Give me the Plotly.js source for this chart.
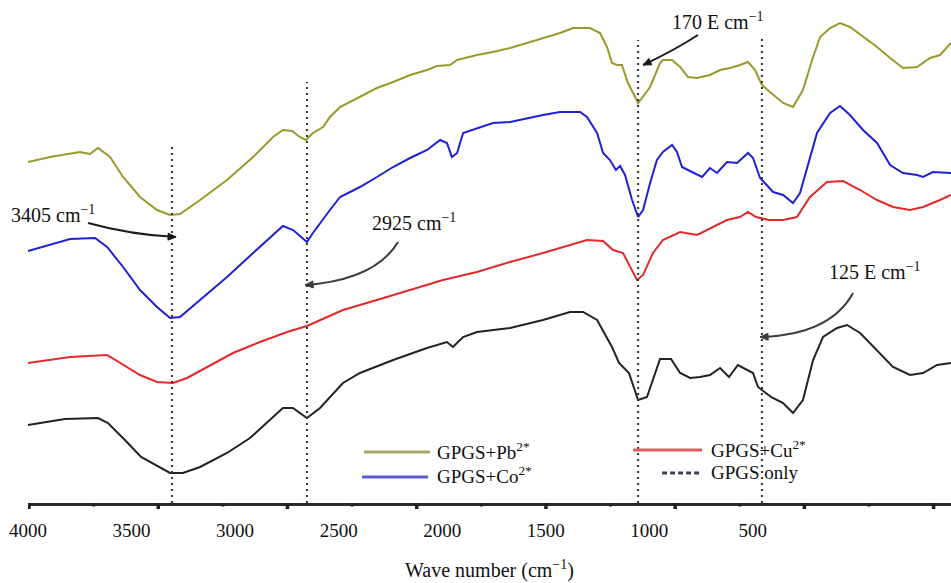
<!DOCTYPE html>
<html>
<head>
<meta charset="utf-8">
<script src="https://cdn.plot.ly/plotly-3.0.1.min.js"></script>
<style>
  html, body { margin: 0; padding: 0; background: #ffffff; }
  #chart { width: 951px; height: 583px; }
</style>
</head>
<body>
<div id="chart"></div>
<script>
// FTIR spectra of the GPGS adsorbent before and after metal-ion uptake.
// Transmittance is in arbitrary, vertically offset units.

const pbWave = [4000,3894,3749,3701,3662,3604,3541,3459,3377,3314,3266,3169,3039,2913,2817,2769,2725,2687,2658,2624,2575,2542,2493,2397,2315,2237,2155,2073,2025,1962,1928,1832,1755,1672,1590,1513,1431,1368,1286,1238,1204,1180,1156,1132,1103,1078,1054,996,948,934,890,851,813,769,707,658,610,562,523,489,456,417,354,306,258,209,175,127,79,31,-32,-100,-163,-225,-293,-356,-404,-457];
const pbT = [67.6,68.6,69.6,69.2,70.4,68.6,64.6,60.6,58,57,57.2,60,64,68.6,72.6,74,73.8,72.6,72,73.4,74.6,76.6,78.6,80.6,82.4,83.6,85,86,86.8,87,88,89,89.6,90.4,91.4,92.4,93.4,94.4,94.4,93.4,90.6,87.4,87,87,83.4,81.4,79.4,82.6,87.4,88,88,86.6,84.6,84.4,85,86,86.4,87,87.6,86,83,81.6,79.4,78.6,82,88.6,92.6,94.4,95.4,94.6,92.6,90.6,88.4,86.4,86.6,88.4,89,91.4];

const coWave = [4000,3894,3797,3676,3618,3541,3459,3377,3314,3266,3169,3039,2913,2769,2720,2677,2653,2624,2590,2542,2493,2397,2315,2237,2155,2073,2010,1977,1953,1928,1899,1832,1755,1672,1590,1513,1431,1334,1301,1252,1223,1190,1161,1141,1117,1083,1054,1030,996,963,934,890,866,842,794,745,707,673,625,576,523,499,465,402,354,306,272,190,127,79,31,-32,-100,-163,-225,-293,-322,-370,-457];
const coT = [49.8,51,52.2,52.4,50.6,46.6,42,38.6,36.4,36.6,40,44.6,49.4,54.8,54,52.4,51.6,53.4,55.4,58,60.6,62.6,64.6,66.6,68.4,70,72,71.4,68.6,69.4,73.4,74.4,75.4,75.6,76.4,77,77.6,77.6,76.6,73.4,69.4,68,66,66.8,65,60,56.6,58,63.4,68,69.6,71,69.6,66.6,65.6,64.6,66.4,65.4,67.6,67.4,69.4,68.4,64.4,61.6,61,59.4,61.4,73.4,77.4,78.8,77,74,71.4,67,65.4,65,64.6,65.6,65.4];

const cuWave = [4000,3894,3797,3618,3556,3459,3377,3300,3232,3136,3010,2880,2749,2653,2590,2479,2315,2155,1996,1832,1672,1513,1349,1301,1223,1175,1127,1093,1059,1030,982,934,851,769,692,625,562,523,485,422,354,287,224,142,64,-18,-100,-177,-259,-322,-404,-457];
const cuT = [27.4,28,28.6,29,27.4,25,23.6,23.4,24.4,26.6,29.4,31.6,33.6,34.8,36,38,40,42,44,45.6,47.6,49.4,51.4,52,51.8,50,49.4,46.6,44,45,49.4,52,53.6,53,54.6,56,56.6,57.6,56.6,56,56,56.6,60.6,63.6,63.8,62,60,58.6,58,58.6,60,61];

const gpWave = [4000,3937,3822,3662,3614,3532,3454,3314,3252,3169,3039,2928,2846,2769,2721,2653,2590,2556,2479,2397,2237,2073,1977,1948,1899,1832,1672,1513,1383,1320,1252,1180,1146,1098,1054,1011,982,948,895,851,803,755,707,658,615,572,499,475,412,354,306,258,209,161,93,45,-18,-100,-177,-259,-322,-390,-457];
const gpT = [15,15.4,16.2,16.4,15.4,12,8.6,5.4,5.4,6.6,9.4,12.4,15.4,18.4,18.4,16.4,18.4,20,23.4,25.4,28,30.4,31.6,30.6,32.6,33.6,34.4,36,37.6,37.6,36,30.6,27.4,25.4,20,20.6,24,28.2,28.2,25.4,24.4,24.6,25,26.4,24.6,27,25.4,22.6,20.6,19.4,17.4,20,28,32.6,34.4,35,33.4,30,26.6,25,25.4,27,27.4];

const seriesNames = ['GPGS+Pb<sup>2*</sup>', 'GPGS+Co<sup>2*</sup>', 'GPGS+Cu<sup>2*</sup>', 'GPGS only'];
const seriesColors = ['#9a9a2c', '#2020d6', '#e32a2a', '#222222'];
const legendColors = ['#a6a866', '#5b5bcc', '#de5c5c', '#3a3f55'];

const tickValues = [4000, 3500, 3000, 2500, 2000, 1500, 1000, 500];
const tickLabels = ['4000', '3500', '3000', '2500', '2000', '1500', '1000', '500'];

// band positions marked by dotted guides, and the height each guide reaches
const bandMarks = [3305, 2653, 1054, 456];
const bandMarkTops = [70.6, 83.6, 92, 92.4];
const bandLabels = ['3405 cm<sup>\u22121</sup>', '2925 cm<sup>\u22121</sup>', '170 E cm<sup>\u22121</sup>', '125 E cm<sup>\u22121</sup>'];

const SERIF = '"Liberation Serif", "Times New Roman", Times, serif';

// plot geometry, used to shape the arrow heads in screen space
const W = 951, H = 583;
const M = { l: 28, r: 0, t: 0, b: 80 };
const X_RANGE = [4000, -457];
const Y_RANGE = [-0.6, 100];
const plotW = W - M.l - M.r, plotH = H - M.t - M.b;
const xToPx = v => M.l + (v - X_RANGE[0]) / (X_RANGE[1] - X_RANGE[0]) * plotW;
const yToPx = v => M.t + (Y_RANGE[1] - v) / (Y_RANGE[1] - Y_RANGE[0]) * plotH;
const pxToX = p => X_RANGE[0] + (p - M.l) / plotW * (X_RANGE[1] - X_RANGE[0]);
const pxToY = p => Y_RANGE[1] - (p - M.t) / plotH * (Y_RANGE[1] - Y_RANGE[0]);

const waves = [pbWave, coWave, cuWave, gpWave];
const trans = [pbT, coT, cuT, gpT];

const traces = waves.map((w, i) => ({
  type: 'scatter',
  mode: 'lines',
  x: w,
  y: trans[i],
  name: seriesNames[i],
  line: { color: seriesColors[i], width: 2 },
  showlegend: false,
  hoverinfo: 'skip'
}));

const shapes = [];

// dotted guides at the marked bands
bandMarks.forEach((v, i) => {
  shapes.push({
    type: 'line', xref: 'x', yref: 'y',
    x0: v, x1: v, y0: Y_RANGE[0], y1: bandMarkTops[i],
    line: { color: '#333333', width: 2, dash: '2px,4px' }
  });
});

// axis tick marks: evenly spaced, alternating long and short
const tickStart = 3995, tickStep = 312;
for (let i = 0; i <= 14; i++) {
  const v = tickStart - tickStep * i;
  const big = i % 2 === 0;
  shapes.push({
    type: 'line', xref: 'x', yref: 'paper',
    x0: v, x1: v, y0: 0, y1: big ? -0.012 : -0.007,
    line: { color: '#222222', width: big ? 3.5 : 3 }
  });
}

// curved leader lines for the band labels: start, control point, tip
const leaders = [
  { s: [3710, 55.4], c: [3500, 53], e: [3285, 52.6], color: '#1c1c1c' },
  { s: [2213, 51.6], c: [2324, 44], e: [2662, 43], color: '#3c3c3c' },
  { s: [765, 93], c: [876, 90], e: [1030, 87], color: '#1c1c1c' },
  { s: [16, 41.4], c: [127, 33], e: [465, 32.6], color: '#3c3c3c' }
];
leaders.forEach(L => {
  shapes.push({
    type: 'path', xref: 'x', yref: 'y',
    path: `M${L.s[0]},${L.s[1]} Q${L.c[0]},${L.c[1]} ${L.e[0]},${L.e[1]}`,
    line: { color: L.color, width: 2 }
  });
  // small filled head, aligned with the curve's end tangent
  const tx = xToPx(L.e[0]), ty = yToPx(L.e[1]);
  const cx = xToPx(L.c[0]), cy = yToPx(L.c[1]);
  let dx = tx - cx, dy = ty - cy;
  const len = Math.hypot(dx, dy); dx /= len; dy /= len;
  const hl = 8, hw = 3.5;
  const bx = tx - dx * hl, by = ty - dy * hl;
  const p1 = [bx - dy * hw, by + dx * hw], p2 = [bx + dy * hw, by - dx * hw];
  shapes.push({
    type: 'path', xref: 'x', yref: 'y',
    path: `M${L.e[0]},${L.e[1]} L${pxToX(p1[0])},${pxToY(p1[1])} L${pxToX(p2[0])},${pxToY(p2[1])} Z`,
    fillcolor: L.color,
    line: { color: L.color, width: 1 }
  });
});

// legend keys, drawn as line samples
const legendKeys = [
  { x0: 2377, x1: 2059, y: 9.6, dash: 'solid' },
  { x0: 2387, x1: 2068, y: 4.6, dash: 'solid' },
  { x0: 1078, x1: 745, y: 10, dash: 'solid' },
  { x0: 938, x1: 745, y: 5.4, dash: '5px,3px' }
];
legendKeys.forEach((k, i) => {
  shapes.push({
    type: 'line', xref: 'x', yref: 'y',
    x0: k.x0, x1: k.x1, y0: k.y, y1: k.y,
    line: { color: legendColors[i], width: 3, dash: k.dash }
  });
});

const annotations = [];

// band label texts
const labelAnchors = [
  { x: 3667, y: 57.2, xanchor: 'right' },
  { x: 2348, y: 55.6, xanchor: 'left' },
  { x: 900, y: 95.8, xanchor: 'left' },
  { x: 142, y: 45.8, xanchor: 'left' }
];
labelAnchors.forEach((a, i) => {
  annotations.push({
    x: a.x, y: a.y, xref: 'x', yref: 'y',
    xanchor: a.xanchor, yanchor: 'middle',
    text: bandLabels[i], showarrow: false,
    font: { family: SERIF, size: 20, color: '#111111' }
  });
});

// legend texts
const legendText = [
  { x: 2035, y: 9.8 },
  { x: 2035, y: 5.0 },
  { x: 711, y: 10.2 },
  { x: 711, y: 5.6 }
];
legendText.forEach((t, i) => {
  annotations.push({
    x: t.x, y: t.y, xref: 'x', yref: 'y',
    xanchor: 'left', yanchor: 'middle',
    text: seriesNames[i], showarrow: false,
    font: { family: SERIF, size: 19, color: '#111111' }
  });
});

const layout = {
  width: W,
  height: H,
  margin: M,
  paper_bgcolor: '#ffffff',
  plot_bgcolor: '#ffffff',
  showlegend: false,
  font: { family: SERIF, size: 19, color: '#111111' },
  xaxis: {
    range: X_RANGE,
    tickmode: 'array',
    tickvals: tickValues,
    ticktext: tickLabels,
    ticks: '',
    ticklabelstandoff: 9,
    showline: true,
    linecolor: '#2a2a2a',
    linewidth: 2.5,
    showgrid: false,
    zeroline: false,
    automargin: false,
    tickfont: { family: SERIF, size: 19, color: '#111111' },
    title: {
      text: 'Wave number (cm<sup>\u22121</sup>)',
      standoff: 23,
      font: { family: SERIF, size: 20, color: '#111111' }
    }
  },
  yaxis: { range: Y_RANGE, visible: false, fixedrange: true },
  shapes: shapes,
  annotations: annotations
};

Plotly.newPlot('chart', traces, layout, { staticPlot: true, displayModeBar: false });
</script>
</body>
</html>
